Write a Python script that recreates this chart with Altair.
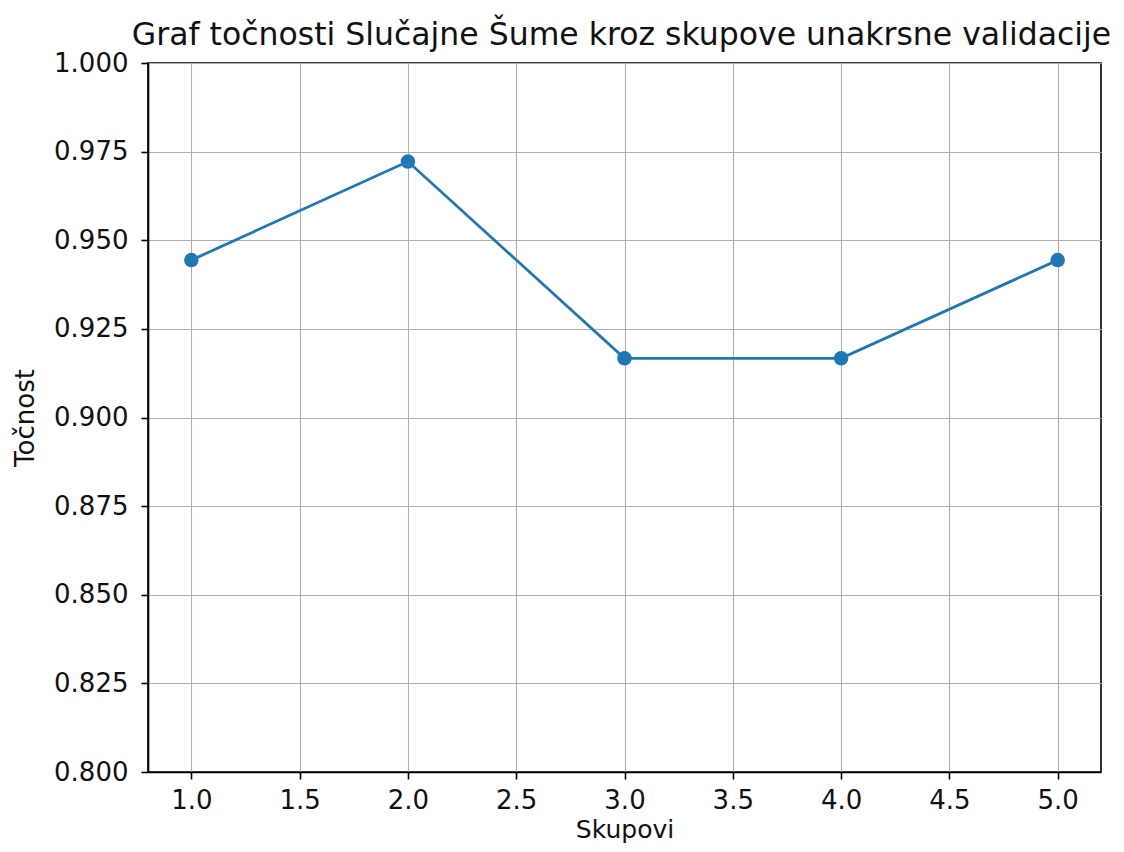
import altair as alt
import pandas as pd

skupovi = [1, 2, 3, 4, 5]
tocnost = [0.9444, 0.9722, 0.9167, 0.9167, 0.9444]
x_ticks = [1.0, 1.5, 2.0, 2.5, 3.0, 3.5, 4.0, 4.5, 5.0]
y_ticks = [0.800, 0.825, 0.850, 0.875, 0.900, 0.925, 0.950, 0.975, 1.000]

df = pd.DataFrame({"Skupovi": skupovi, "Točnost": tocnost})

FONT = "DejaVu Sans"
COLOR = "#1f77b4"

x = alt.X("Skupovi:Q",
          scale=alt.Scale(domain=[0.8, 5.2], nice=False, zero=False),
          axis=alt.Axis(values=x_ticks, format=".1f", title="Skupovi"))
y = alt.Y("Točnost:Q",
          scale=alt.Scale(domain=[0.8, 1.0], nice=False, zero=False),
          axis=alt.Axis(values=y_ticks, format=".3f", title="Točnost"))

base = alt.Chart(df)
line = base.mark_line(color=COLOR, strokeWidth=2.8).encode(x=x, y=y)
pts = base.mark_point(color=COLOR, filled=True, opacity=1, size=210).encode(x=x, y=y)

chart = (line + pts).properties(
    width=953,
    height=709,
    title=alt.TitleParams(
        "Graf točnosti Slučajne Šume kroz skupove unakrsne validacije",
        font=FONT, fontSize=31.5, fontWeight="normal", color="#111111",
        anchor="middle", offset=8, dy=9, dx=-3,
    ),
    autosize=alt.AutoSizeParams(type="none"),
    padding={"left": 140, "top": 55, "right": 15, "bottom": 72},
).configure_view(
    stroke="black", strokeWidth=1.6
).configure_axis(
    labelFont=FONT, labelFontSize=26, labelColor="#111111",
    titleFont=FONT, titleFontSize=26, titleFontWeight="normal", titleColor="#111111",
    domain=True, domainColor="black", domainWidth=1.6,
    ticks=True, tickColor="black", tickSize=7, tickWidth=1.6,
    grid=True, gridColor="#b0b0b0", gridWidth=1.1,
).configure_axisX(
    labelPadding=8,
    titlePadding=4,
    titleFontSize=25,
).configure_axisY(
    labelPadding=13,
    titlePadding=15,
)

chart.save("out.html", embed_options={"renderer": "svg", "actions": False})
